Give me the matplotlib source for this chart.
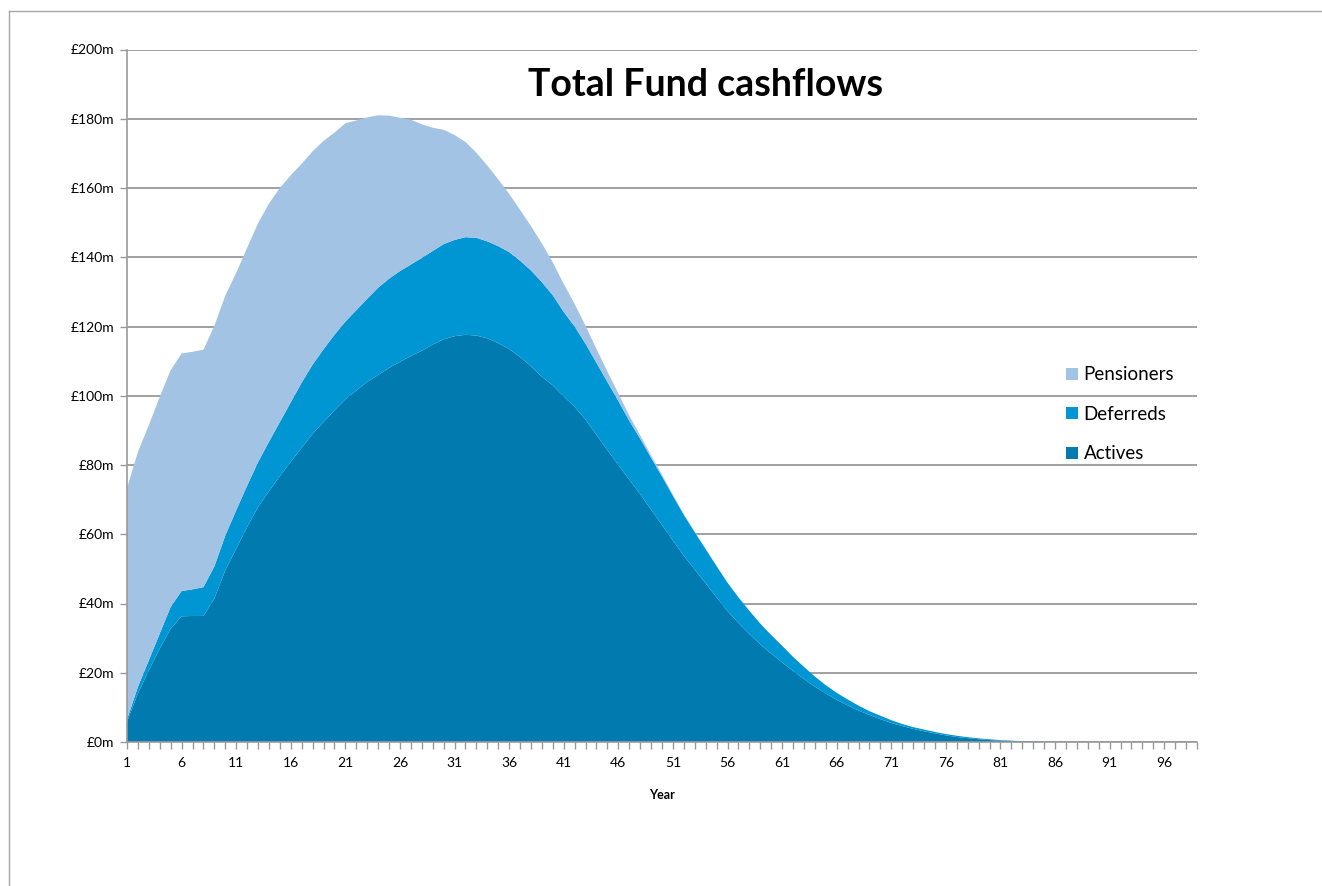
import matplotlib
matplotlib.use("Agg")
import matplotlib.pyplot as plt
from matplotlib.patches import Patch
from matplotlib.lines import Line2D

years = list(range(1, 100))

actives = [5.8, 14.0, 20.7, 27.0, 32.7, 36.3, 36.4, 36.4, 41.4, 49.6,
           55.8, 62.1, 67.8, 72.4, 76.8, 80.9, 85.0, 89.0, 92.4, 95.8,
           99.0, 101.5, 104.0, 106.0, 108.0, 109.8, 111.5, 113.0, 114.8, 116.3,
           117.2, 117.6, 117.4, 116.6, 115.2, 113.5, 111.2, 108.5, 105.5, 103.0,
           99.8, 96.8, 93.1, 88.7, 84.3, 80.0, 75.8, 71.6, 67.1, 62.7,
           58.2, 53.8, 49.8, 45.8, 41.8, 37.8, 34.4, 31.2, 28.2, 25.5,
           23.0, 20.5, 18.2, 16.0, 14.0, 12.2, 10.6, 9.1, 7.8, 6.6,
           5.5, 4.6, 3.8, 3.1, 2.5, 1.9, 1.45, 1.1, 0.8, 0.55,
           0.38, 0.25, 0.15, 0.09, 0.05, 0.02, 0, 0, 0, 0,
           0, 0, 0, 0, 0, 0, 0, 0, 0]

deferreds = [0.7, 1.9, 2.9, 4.3, 6.3, 7.3, 7.7, 8.3, 9.3, 10.0,
             11.1, 11.9, 13.0, 14.3, 15.6, 17.2, 18.8, 20.0, 21.0, 21.8,
             22.4, 23.2, 24.0, 25.2, 25.8, 26.2, 26.4, 26.8, 27.0, 27.5,
             27.8, 28.2, 28.2, 28.0, 28.0, 28.0, 27.8, 27.7, 27.3, 26.0,
             24.4, 23.2, 21.9, 20.8, 19.7, 18.5, 17.0, 16.0, 15.0, 14.0,
             12.9, 11.8, 10.8, 9.9, 9.0, 8.2, 7.4, 6.7, 6.0, 5.4,
             4.8, 4.1, 3.5, 2.9, 2.4, 2.0, 1.7, 1.4, 1.1, 1.0,
             0.8, 0.6, 0.5, 0.5, 0.4, 0.4, 0.35, 0.3, 0.25, 0.23,
             0.17, 0.13, 0.1, 0.06, 0.03, 0.02, 0.02, 0, 0, 0,
             0, 0, 0, 0, 0, 0, 0, 0, 0]

pensioners = [66.8, 67.9, 67.9, 68.4, 68.4, 68.6, 68.6, 68.6, 69.5, 69.3,
              68.6, 68.7, 69.0, 68.8, 67.6, 65.6, 63.2, 61.6, 60.2, 58.4,
              57.3, 54.8, 52.4, 49.8, 47.1, 44.3, 41.8, 38.6, 35.6, 33.0,
              30.3, 27.5, 24.6, 21.9, 19.3, 16.8, 14.7, 12.8, 11.2, 9.5,
              8.1, 6.5, 5.2, 4.0, 3.0, 2.2, 1.5, 1.0, 0.7, 0.5,
              0.35, 0.25, 0.18, 0.12, 0.08, 0.05, 0.03, 0.02, 0.01, 0,
              0, 0, 0, 0, 0, 0, 0, 0, 0, 0,
              0, 0, 0, 0, 0, 0, 0, 0, 0, 0,
              0, 0, 0, 0, 0, 0, 0, 0, 0, 0,
              0, 0, 0, 0, 0, 0, 0, 0, 0]

series_names = ["Actives", "Deferreds", "Pensioners"]
colors = ["#007AAF", "#0095D3", "#A2C3E3"]
y_ticks = list(range(0, 201, 20))
y_labels = [f"£{v}m" for v in y_ticks]
x_label_years = list(range(1, 100, 5))

plt.rcParams['font.family'] = ['Lato', 'DejaVu Sans']

W, H = 1322, 886
fig = plt.figure(figsize=(W / 100, H / 100), dpi=100)
ax = fig.add_axes([127 / W, 1 - 742 / H, (1197 - 127) / W, (742 - 49.5) / H])

ax.stackplot(years, actives, deferreds, pensioners, colors=colors,
             labels=series_names, linewidth=0, zorder=2)

ax.set_xlim(1, 99)
ax.set_ylim(0, 200)
ax.set_yticks(y_ticks)
ax.set_yticklabels(y_labels, fontsize=10)
ax.set_xticks(years)
ax.set_xticklabels([str(y) if y in x_label_years else "" for y in years], fontsize=10)
ax.tick_params(axis='both', direction='out', length=5, width=1, color='#999999', pad=4)
ax.tick_params(axis='x', pad=6)
ax.yaxis.grid(True, color='#999999', linewidth=1.3, zorder=0)
ax.set_axisbelow(True)
for s in ['top', 'right']:
    ax.spines[s].set_visible(False)
for s in ['left', 'bottom']:
    ax.spines[s].set_color('#999999')
    ax.spines[s].set_linewidth(1.2)

ax.set_xlabel("Year", fontsize=9, fontweight='bold', labelpad=14)

fig.text(706 / W, 1 - 85 / H, "Total Fund cashflows", fontsize=27, fontweight='bold',
         ha='center', va='center')

handles = [Patch(facecolor=colors[2], label="Pensioners"),
           Patch(facecolor=colors[1], label="Deferreds"),
           Patch(facecolor=colors[0], label="Actives")]
leg = fig.legend(handles=handles, loc='upper left',
                 bbox_to_anchor=(1057 / W, 1 - 357 / H), frameon=False,
                 fontsize=13.5, labelspacing=1.2, handlelength=0.62,
                 handleheight=0.62, handletextpad=0.3, borderpad=0)

# outer chart frame
fig.add_artist(Line2D([8.5 / W, 8.5 / W], [0, 1 - 11 / H], color='#A6A6A6', linewidth=1))
fig.add_artist(Line2D([8.5 / W, 1], [1 - 11 / H, 1 - 11 / H], color='#A6A6A6', linewidth=1))

fig.savefig("out.png", dpi=100, facecolor='white')
